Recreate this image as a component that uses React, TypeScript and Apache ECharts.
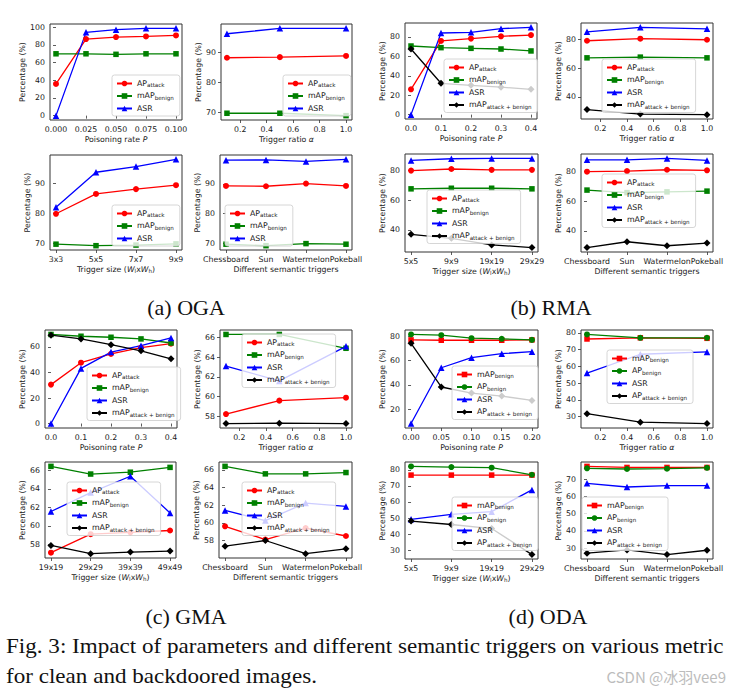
import React, { useEffect, useRef } from 'react';
import * as echarts from 'echarts';

const W = 743;
const H = 693;
const FONT = "'DejaVu Sans', sans-serif";
const SERIF = "'Liberation Serif', 'DejaVu Serif', serif";

// ---------- x values / categories ----------
const POISON_OGA = [0, 0.025, 0.05, 0.075, 0.1];
const POISON_RMA = [0, 0.1, 0.2, 0.3, 0.4];
const POISON_GMA = [0, 0.1, 0.2, 0.3, 0.4];
const POISON_ODA = [0, 0.05, 0.1, 0.15, 0.2];
const RATIO = [0.1, 0.5, 1.0];
const SIZE_OGA = ['3x3', '5x5', '7x7', '9x9'];
const SIZE_RMA = ['5x5', '9x9', '19x19', '29x29'];
const SIZE_GMA = ['19x19', '29x29', '39x39', '49x49'];
const SIZE_ODA = ['5x5', '9x9', '19x19', '29x29'];
const SEMANTIC = ['Chessboard', 'Sun', 'Watermelon', 'Pokeball'];

// ---------- tick labels ----------
const XT_OGA_P = [0, 0.025, 0.05, 0.075, 0.1];
const XT_P04 = [0, 0.1, 0.2, 0.3, 0.4];
const XT_P02 = [0, 0.05, 0.1, 0.15, 0.2];
const XT_RATIO = [0.2, 0.4, 0.6, 0.8, 1.0];
const XT_CAT = [0, 1, 2, 3];
const YT_0_100 = [0, 20, 40, 60, 80, 100];
const YT_70_90 = [70, 80, 90];
const YT_0_80 = [0, 20, 40, 60, 80];
const YT_40_80 = [40, 60, 80];
const YT_0_60 = [0, 20, 40, 60];
const YT_58_66 = [58, 60, 62, 64, 66];
const YT_20_80 = [20, 40, 60, 80];
const YT_30_80 = [30, 40, 50, 60, 70, 80];
const YT_30_70 = [30, 40, 50, 60, 70];

// ---------- (a) OGA ----------
const OGA_P_AP = [35.8, 86.4, 88.7, 89.4, 90.5];
const OGA_P_MAP = [69.8, 69.8, 69.2, 69.8, 69.8];
const OGA_P_ASR = [0, 94.0, 97.0, 98.5, 98.5];
const OGA_R_AP = [88.2, 88.4, 88.8];
const OGA_R_MAP = [69.7, 69.7, 68.9];
const OGA_R_ASR = [96.2, 98.0, 98.0];
const OGA_S_AP = [79.8, 86.4, 88.0, 89.3];
const OGA_S_MAP = [69.7, 69.2, 69.4, 69.8];
const OGA_S_ASR = [82.0, 93.6, 95.5, 97.9];
const OGA_T_AP = [89.3, 89.2, 90.1, 89.3];
const OGA_T_MAP = [69.6, 69.1, 69.8, 69.6];
const OGA_T_ASR = [98.0, 98.1, 97.6, 98.3];

// ---------- (b) RMA ----------
const RMA_P_AP = [26.1, 75.9, 78.3, 80.7, 82.0];
const RMA_P_MAP = [70.7, 69.0, 68.3, 67.6, 65.6];
const RMA_P_ASR = [0, 84.1, 84.8, 88.6, 89.9];
const RMA_P_ALL = [67.6, 32.3, 30.2, 28.3, 26.1];
const RMA_R_AP = [79.1, 80.5, 79.8];
const RMA_R_MAP = [67.2, 67.7, 67.2];
const RMA_R_ASR = [85.3, 88.4, 87.4];
const RMA_R_ALL = [31.2, 28.1, 27.7];
const RMA_S_AP = [80.0, 81.1, 80.5, 80.5];
const RMA_S_MAP = [67.7, 68.1, 68.1, 67.7];
const RMA_S_ASR = [86.9, 88.0, 88.2, 88.2];
const RMA_S_ALL = [37.0, 34.3, 29.9, 28.1];
const RMA_T_AP = [79.8, 80.2, 81.1, 80.7];
const RMA_T_MAP = [67.4, 65.7, 66.2, 66.7];
const RMA_T_ASR = [87.8, 87.8, 88.7, 87.4];
const RMA_T_ALL = [28.7, 32.6, 29.9, 31.7];

// ---------- (c) GMA ----------
const GMA_P_AP = [30.5, 47.7, 54.6, 59.5, 62.6];
const GMA_P_MAP = [69.8, 68.4, 67.6, 66.3, 63.1];
const GMA_P_ASR = [0, 43.2, 56.0, 61.0, 67.1];
const GMA_P_ALL = [69.2, 66.3, 61.8, 57.0, 50.7];
const GMA_R_AP = [58.24, 59.6, 59.9];
const GMA_R_MAP = [66.3, 66.3, 64.9];
const GMA_R_ASR = [63.1, 61.6, 65.1];
const GMA_R_ALL = [57.28, 57.32, 57.28];
const GMA_S_AP = [57.1, 59.1, 59.3, 59.5];
const GMA_S_MAP = [66.43, 65.6, 65.8, 66.32];
const GMA_S_ASR = [61.55, 63.6, 65.36, 61.4];
const GMA_S_ALL = [57.89, 57.0, 57.17, 57.28];
const GMA_T_AP = [59.6, 58.1, 59.4, 58.5];
const GMA_T_MAP = [66.4, 65.55, 65.55, 65.7];
const GMA_T_ASR = [61.4, 60.25, 62.24, 61.86];
const GMA_T_ALL = [57.35, 57.99, 56.5, 57.05];

// ---------- (d) ODA ----------
const ODA_P_MAP = [77.2, 76.9, 76.9, 76.9, 77.2];
const ODA_P_APB = [81.7, 81.1, 78.6, 78.1, 77.2];
const ODA_P_ASR = [8.1, 54.2, 62.5, 65.8, 67.5];
const ODA_P_ALL = [74.4, 38.3, 33.3, 30.8, 27.2];
const ODA_R_MAP = [76.3, 77.0, 76.7];
const ODA_R_APB = [79.0, 77.0, 77.0];
const ODA_R_ASR = [56.0, 67.2, 68.6];
const ODA_R_ALL = [31.8, 26.7, 25.9];
const ODA_S_MAP = [76.7, 76.7, 76.7, 76.7];
const ODA_S_APB = [82.1, 81.7, 81.3, 76.9];
const ODA_S_ASR = [49.2, 52.3, 54.0, 67.5];
const ODA_S_ALL = [48.1, 46.0, 43.5, 27.3];
const ODA_T_MAP = [77.3, 76.7, 76.7, 76.7];
const ODA_T_APB = [76.2, 75.8, 76.0, 76.5];
const ODA_T_ASR = [67.5, 65.4, 66.2, 66.2];
const ODA_T_ALL = [27.1, 29.0, 26.3, 28.8];

// ---------- styling lookups ----------
const STY: Record<string, [string, string, number]> = {
  ap: ['#ff0000', 'circle', 6],
  map: ['#008000', 'rect', 5.5],
  asr: ['#0000ff', 'triangle', 6.5],
  all: ['#000000', 'diamond', 7],
  mapR: ['#ff0000', 'rect', 5.5],
  apb: ['#008000', 'circle', 6],
  apall: ['#000000', 'diamond', 7],
};
const LBL: Record<string, string> = {
  ap: '{m|AP}{s|attack}',
  map: '{m|mAP}{s|benign}',
  mapR: '{m|mAP}{s|benign}',
  asr: '{m|ASR}{s| }',
  all: '{m|mAP}{s|attack + benign}',
  apb: '{m|AP}{s|benign}',
  apall: '{m|AP}{s|attack + benign}',
};
const XNAME: Record<string, string> = {
  poison: '{m|Poisoning rate }{i|P}',
  ratio: '{m|Trigger ratio }{i|α}',
  size: '{m|Trigger size (}{i|W}{s|l}{m|x}{i|W}{s|h}{m|)}',
  sem: '{m|Different semantic triggers}',
};

type Panel = {
  id: string;
  grid: [number, number, number, number];
  legend: [number, number];
  kind: 'poison' | 'ratio' | 'size' | 'sem';
  x: (number | string)[];
  xt: number[];
  digits: number;
  yt: number[];
  ygap: number;
  series: [string, number[]][];
};

const PANELS: Panel[] = [
  { id: 'a1', grid: [50, 24, 132, 96], legend: [112, 75], kind: 'poison', x: POISON_OGA, xt: XT_OGA_P, digits: 3, yt: YT_0_100, ygap: 24,
    series: [['ap', OGA_P_AP], ['map', OGA_P_MAP], ['asr', OGA_P_ASR]] },
  { id: 'a2', grid: [221, 24, 131, 96], legend: [283, 75], kind: 'ratio', x: RATIO, xt: XT_RATIO, digits: 1, yt: YT_70_90, ygap: 19,
    series: [['ap', OGA_R_AP], ['map', OGA_R_MAP], ['asr', OGA_R_ASR]] },
  { id: 'a3', grid: [50, 155, 132, 95], legend: [112, 205], kind: 'size', x: SIZE_OGA, xt: XT_CAT, digits: 0, yt: YT_70_90, ygap: 19,
    series: [['ap', OGA_S_AP], ['map', OGA_S_MAP], ['asr', OGA_S_ASR]] },
  { id: 'a4', grid: [220, 155, 132, 95], legend: [225, 205], kind: 'sem', x: SEMANTIC, xt: XT_CAT, digits: 0, yt: YT_70_90, ygap: 19,
    series: [['ap', OGA_T_AP], ['map', OGA_T_MAP], ['asr', OGA_T_ASR]] },

  { id: 'b1', grid: [405, 23, 132, 96], legend: [444, 59], kind: 'poison', x: POISON_RMA, xt: XT_P04, digits: 1, yt: YT_0_80, ygap: 19,
    series: [['ap', RMA_P_AP], ['map', RMA_P_MAP], ['asr', RMA_P_ASR], ['all', RMA_P_ALL]] },
  { id: 'b2', grid: [581, 23, 132, 96], legend: [602, 59], kind: 'ratio', x: RATIO, xt: XT_RATIO, digits: 1, yt: YT_40_80, ygap: 19,
    series: [['ap', RMA_R_AP], ['map', RMA_R_MAP], ['asr', RMA_R_ASR], ['all', RMA_R_ALL]] },
  { id: 'b3', grid: [405, 154, 133, 98], legend: [427, 190], kind: 'size', x: SIZE_RMA, xt: XT_CAT, digits: 0, yt: YT_40_80, ygap: 19,
    series: [['ap', RMA_S_AP], ['map', RMA_S_MAP], ['asr', RMA_S_ASR], ['all', RMA_S_ALL]] },
  { id: 'b4', grid: [581, 154, 132, 98], legend: [602, 174], kind: 'sem', x: SEMANTIC, xt: XT_CAT, digits: 0, yt: YT_40_80, ygap: 19,
    series: [['ap', RMA_T_AP], ['map', RMA_T_MAP], ['asr', RMA_T_ASR], ['all', RMA_T_ALL]] },

  { id: 'c1', grid: [45, 330, 132, 98], legend: [87, 367], kind: 'poison', x: POISON_GMA, xt: XT_P04, digits: 1, yt: YT_0_60, ygap: 19,
    series: [['ap', GMA_P_AP], ['map', GMA_P_MAP], ['asr', GMA_P_ASR], ['all', GMA_P_ALL]] },
  { id: 'c2', grid: [220, 330, 132, 98], legend: [242, 334], kind: 'ratio', x: RATIO, xt: XT_RATIO, digits: 1, yt: YT_58_66, ygap: 19,
    series: [['ap', GMA_R_AP], ['map', GMA_R_MAP], ['asr', GMA_R_ASR], ['all', GMA_R_ALL]] },
  { id: 'c3', grid: [45, 462, 131, 96], legend: [67, 482], kind: 'size', x: SIZE_GMA, xt: XT_CAT, digits: 0, yt: YT_58_66, ygap: 19,
    series: [['ap', GMA_S_AP], ['map', GMA_S_MAP], ['asr', GMA_S_ASR], ['all', GMA_S_ALL]] },
  { id: 'c4', grid: [219, 462, 133, 96], legend: [242, 482], kind: 'sem', x: SEMANTIC, xt: XT_CAT, digits: 0, yt: YT_58_66, ygap: 19,
    series: [['ap', GMA_T_AP], ['map', GMA_T_MAP], ['asr', GMA_T_ASR], ['all', GMA_T_ALL]] },

  { id: 'd1', grid: [405, 330, 133, 98], legend: [452, 366], kind: 'poison', x: POISON_ODA, xt: XT_P02, digits: 2, yt: YT_20_80, ygap: 19,
    series: [['mapR', ODA_P_MAP], ['apb', ODA_P_APB], ['asr', ODA_P_ASR], ['apall', ODA_P_ALL]] },
  { id: 'd2', grid: [581, 330, 132, 98], legend: [607, 350], kind: 'ratio', x: RATIO, xt: XT_RATIO, digits: 1, yt: YT_30_80, ygap: 19,
    series: [['mapR', ODA_R_MAP], ['apb', ODA_R_APB], ['asr', ODA_R_ASR], ['apall', ODA_R_ALL]] },
  { id: 'd3', grid: [405, 462, 133, 97], legend: [452, 497], kind: 'size', x: SIZE_ODA, xt: XT_CAT, digits: 0, yt: YT_30_80, ygap: 19,
    series: [['mapR', ODA_S_MAP], ['apb', ODA_S_APB], ['asr', ODA_S_ASR], ['apall', ODA_S_ALL]] },
  { id: 'd4', grid: [581, 462, 132, 97], legend: [582, 497], kind: 'sem', x: SEMANTIC, xt: XT_CAT, digits: 0, yt: YT_30_70, ygap: 19,
    series: [['mapR', ODA_T_MAP], ['apb', ODA_T_APB], ['asr', ODA_T_ASR], ['apall', ODA_T_ALL]] },
];

const CAPTIONS: [string, number, number][] = [
  ['(a) OGA', 186, 308],
  ['(b) RMA', 551, 308],
  ['(c) GMA', 186, 617],
  ['(d) ODA', 548, 617],
];
const FIG_LINE1 = 'Fig. 3: Impact of parameters and different semantic triggers on various metric';
const FIG_LINE2 = 'for clean and backdoored images.';
const WATERMARK = 'CSDN @冰羽vee9';

const TXT = '#1a1a1a';
const FS = 7.8;
const RICH = {
  m: { fontSize: FS, fontFamily: FONT, color: TXT, verticalAlign: 'top', lineHeight: 9 },
  i: { fontSize: FS, fontFamily: FONT, color: TXT, fontStyle: 'italic', verticalAlign: 'top', lineHeight: 9 },
  s: { fontSize: 5.6, fontFamily: FONT, color: TXT, verticalAlign: 'bottom', lineHeight: 6.5, padding: [4, 0, 0, 0] },
};

function autoRange(vals: number[]): [number, number] {
  const mn = Math.min(...vals);
  const mx = Math.max(...vals);
  const pad = (mx - mn) * 0.05;
  return [mn - pad, mx + pad];
}

function buildOption() {
  const grid: any[] = [];
  const xAxis: any[] = [];
  const yAxis: any[] = [];
  const legend: any[] = [];
  const series: any[] = [];

  PANELS.forEach((p, i) => {
    const isCat = p.kind === 'size' || p.kind === 'sem';
    const xs: number[] = isCat ? p.x.map((_, j) => j) : (p.x as number[]);
    const [xmin, xmax] = autoRange(xs);
    const allY: number[] = [];
    p.series.forEach(([, v]) => allY.push(...v));
    const [ymin, ymax] = autoRange(allY);

    grid.push({
      left: p.grid[0], top: p.grid[1], width: p.grid[2], height: p.grid[3],
      show: true, borderColor: '#333', borderWidth: 1, backgroundColor: 'transparent',
      containLabel: false, outerBoundsMode: 'none',
    });

    const cats = p.x as string[];
    xAxis.push({
      gridIndex: i, type: 'value', min: xmin, max: xmax,
      axisLine: { show: false }, splitLine: { show: false },
      axisTick: { show: true, length: 3, customValues: p.xt, lineStyle: { color: '#333', width: 0.8 } },
      axisLabel: {
        customValues: p.xt, margin: 5, fontSize: FS, fontFamily: FONT, color: TXT,
        hideOverlap: false, showMinLabel: true, showMaxLabel: true,
        formatter: (v: number) => (isCat ? cats[Math.round(v)] : v.toFixed(p.digits)),
      },
      name: XNAME[p.kind], nameLocation: 'middle', nameGap: 15,
      nameTextStyle: { fontSize: FS, fontFamily: FONT, color: TXT, rich: RICH },
    });
    yAxis.push({
      gridIndex: i, type: 'value', min: ymin, max: ymax,
      axisLine: { show: false }, splitLine: { show: false },
      axisTick: { show: true, length: 3, customValues: p.yt, lineStyle: { color: '#333', width: 0.8 } },
      axisLabel: {
        customValues: p.yt, margin: 5, fontSize: FS, fontFamily: FONT, color: TXT,
        hideOverlap: false, showMinLabel: true, showMaxLabel: true,
        formatter: (v: number) => String(v),
      },
      name: 'Percentage (%)', nameLocation: 'middle', nameGap: p.ygap,
      nameTextStyle: { fontSize: FS, fontFamily: FONT, color: TXT },
    });

    const names: string[] = [];
    p.series.forEach(([key, vals]) => {
      const [color, symbol, size] = STY[key];
      const name = p.id + '|' + key;
      names.push(name);
      series.push({
        type: 'line', name, xAxisIndex: i, yAxisIndex: i, silent: true,
        data: vals.map((v, j) => [xs[j], v]),
        symbol, symbolSize: size, showSymbol: true, showAllSymbol: true,
        lineStyle: { color, width: 1.3 }, itemStyle: { color, borderColor: color, borderWidth: 0 },
        z: 2,
      });
    });

    legend.push({
      left: p.legend[0], top: p.legend[1], orient: 'vertical', data: names,
      formatter: (n: string) => LBL[n.split('|')[1]],
      itemWidth: 15, itemHeight: 7, itemGap: 2.5, padding: [3, 6, 3, 4],
      backgroundColor: 'rgba(255,255,255,0.8)', borderColor: '#cccccc', borderWidth: 0.8, borderRadius: 2.5,
      selectedMode: false, z: 5,
      textStyle: { fontSize: FS, fontFamily: FONT, color: TXT, rich: RICH },
    });
  });

  const graphic: any[] = [];
  CAPTIONS.forEach(([t, x, y]) => {
    graphic.push({
      type: 'text', x, y, scaleX: 1.1, silent: true,
      style: { text: t, font: `20px ${SERIF}`, fill: '#111', textAlign: 'center', textVerticalAlign: 'middle' },
    });
  });
  graphic.push({
    type: 'text', x: 6, y: 647, scaleX: 1.155, silent: true,
    style: { text: FIG_LINE1, font: `20px ${SERIF}`, fill: '#111', textAlign: 'left', textVerticalAlign: 'middle' },
  });
  graphic.push({
    type: 'text', x: 6, y: 677, scaleX: 1.155, silent: true,
    style: { text: FIG_LINE2, font: `20px ${SERIF}`, fill: '#111', textAlign: 'left', textVerticalAlign: 'middle' },
  });
  graphic.push({
    type: 'text', x: 726, y: 676, silent: true,
    style: { text: WATERMARK, font: `15px 'Noto Sans CJK SC', sans-serif`, fill: '#bcbcbc', textAlign: 'right', textVerticalAlign: 'middle' },
  });

  return {
    animation: false,
    backgroundColor: '#ffffff',
    textStyle: { fontFamily: FONT },
    grid, xAxis, yAxis, legend, series, graphic,
  };
}

export default function App() {
  const ref = useRef<HTMLDivElement>(null);
  useEffect(() => {
    if (!ref.current) return;
    const chart = echarts.init(ref.current, undefined, { renderer: 'svg' });
    chart.setOption(buildOption() as any);
    return () => chart.dispose();
  }, []);
  return <div ref={ref} style={{ position: 'absolute', left: 0, top: 0, width: W, height: H }} />;
}
